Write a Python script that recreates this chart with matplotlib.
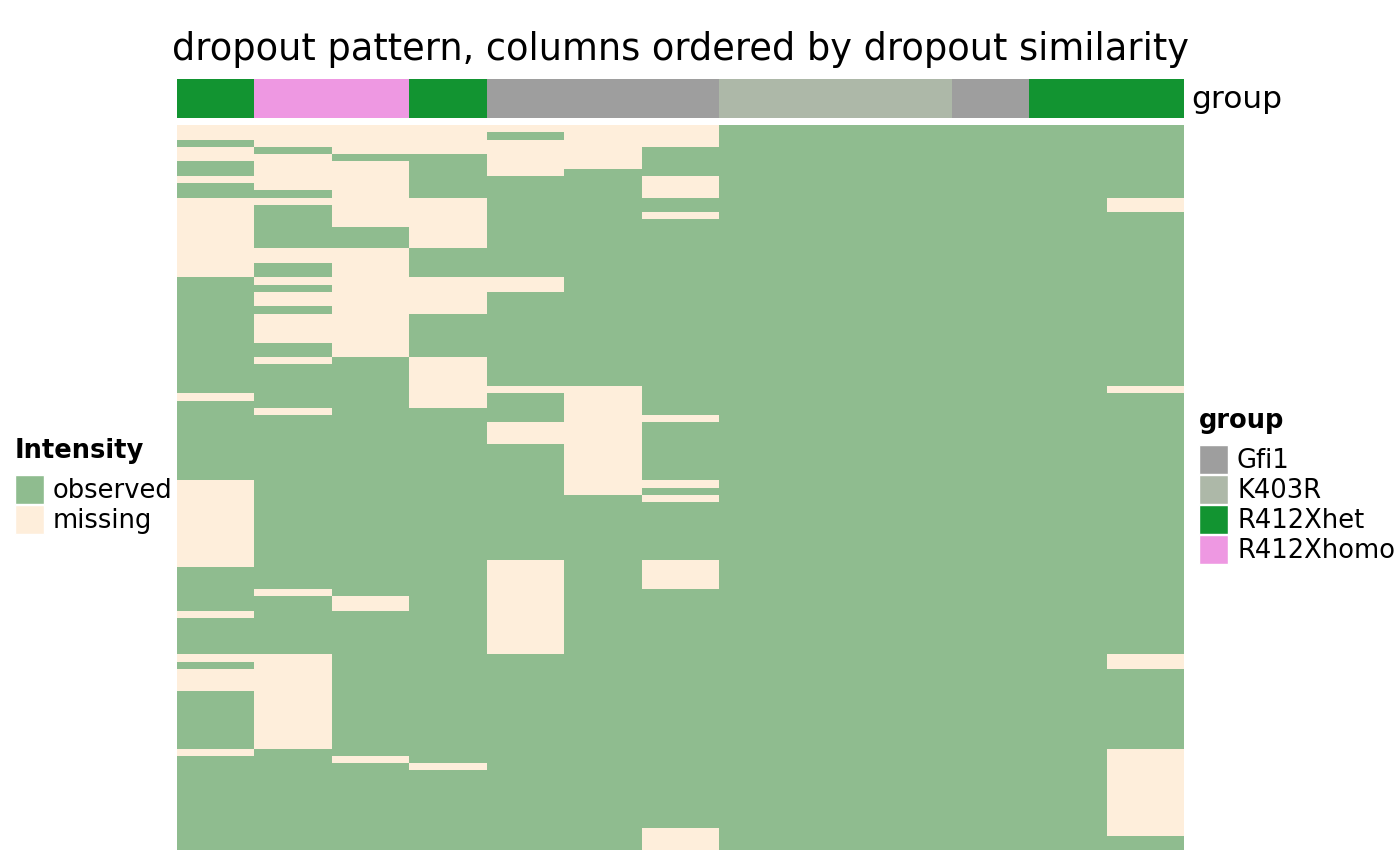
import numpy as np
import matplotlib
matplotlib.use("Agg")
import matplotlib.pyplot as plt
from matplotlib.colors import ListedColormap
from matplotlib.patches import Rectangle

# column groups, in the order shown (left to right)
col_groups = ["R412Xhet", "R412Xhomo", "R412Xhomo", "R412Xhet",
              "Gfi1", "Gfi1", "Gfi1",
              "K403R", "K403R", "K403R",
              "Gfi1", "R412Xhet", "R412Xhet"]

group_names = ["Gfi1", "K403R", "R412Xhet", "R412Xhomo"]
group_colors = ["#9e9e9e", "#adb8a8", "#129431", "#ee98e2"]

intensity_names = ["observed", "missing"]
intensity_colors = ["#8fbc8f", "#feeedb"]

n_rows = 100

# missing rows for each column, as (first, last) runs, top row = 0
missing_runs = [
    [(0, 1), (3, 4), (7, 7), (10, 20), (37, 37), (49, 60), (67, 67), (73, 73), (75, 77), (86, 86)],
    [(0, 2), (4, 8), (10, 10), (17, 18), (21, 21), (23, 24), (26, 29), (32, 32), (39, 39), (64, 64), (73, 85)],
    [(0, 3), (5, 13), (17, 31), (65, 66), (87, 87)],
    [(0, 3), (10, 16), (21, 25), (32, 38), (88, 88)],
    [(0, 0), (2, 6), (21, 22), (36, 36), (41, 43), (60, 72)],
    [(0, 5), (36, 50)],
    [(0, 2), (7, 9), (12, 12), (40, 40), (49, 49), (51, 51), (60, 63), (97, 99)],
    [],
    [],
    [],
    [],
    [],
    [(10, 11), (36, 36), (73, 74), (86, 97)],
]

mat = np.zeros((n_rows, len(col_groups)))
for j, runs in enumerate(missing_runs):
    for a, b in runs:
        mat[a:b + 1, j] = 1

W, H = 1400, 865
fig = plt.figure(figsize=(14, 8.65), dpi=100)

def box(x0, y0, x1, y1):
    # pixel box -> figure fraction rect
    return [x0 / W, 1 - y1 / H, (x1 - x0) / W, (y1 - y0) / H]

# main heatmap
ax = fig.add_axes(box(177, 125, 1184, 850))
ax.pcolormesh(mat, cmap=ListedColormap(intensity_colors), vmin=0, vmax=1)
ax.set_xlim(0, len(col_groups))
ax.set_ylim(n_rows, 0)
ax.axis("off")

# group annotation bar
ax_top = fig.add_axes(box(177, 79, 1184, 118))
gidx = np.array([[group_names.index(g) for g in col_groups]])
ax_top.pcolormesh(gidx, cmap=ListedColormap(group_colors), vmin=-0.5, vmax=len(group_names) - 0.5)
ax_top.set_xlim(0, len(col_groups))
ax_top.axis("off")
fig.text(1191 / W, 1 - 100 / H, "group", fontsize=22.5, va="center", ha="left")

fig.text(681 / W, 1 - 49 / H, "dropout pattern, columns ordered by dropout similarity",
         fontsize=26.5, ha="center", va="center")

# legends drawn by hand
def legend(x, y_title, title, names, colors):
    fig.text(x / W, 1 - y_title / H, title, fontsize=18.5, fontweight="bold", va="center")
    y = y_title + 24
    for name, c in zip(names, colors):
        fig.add_artist(Rectangle((x / W, 1 - (y + 29) / H), 29 / W, 29 / H,
                                 transform=fig.transFigure, facecolor=c,
                                 edgecolor="white", lw=1))
        fig.text((x + 38) / W, 1 - (y + 16) / H, name, fontsize=18.5, va="center")
        y += 30

legend(1199, 421, "group", group_names, group_colors)
legend(15, 451, "Intensity", intensity_names, intensity_colors)

fig.savefig("out.png", dpi=100)
